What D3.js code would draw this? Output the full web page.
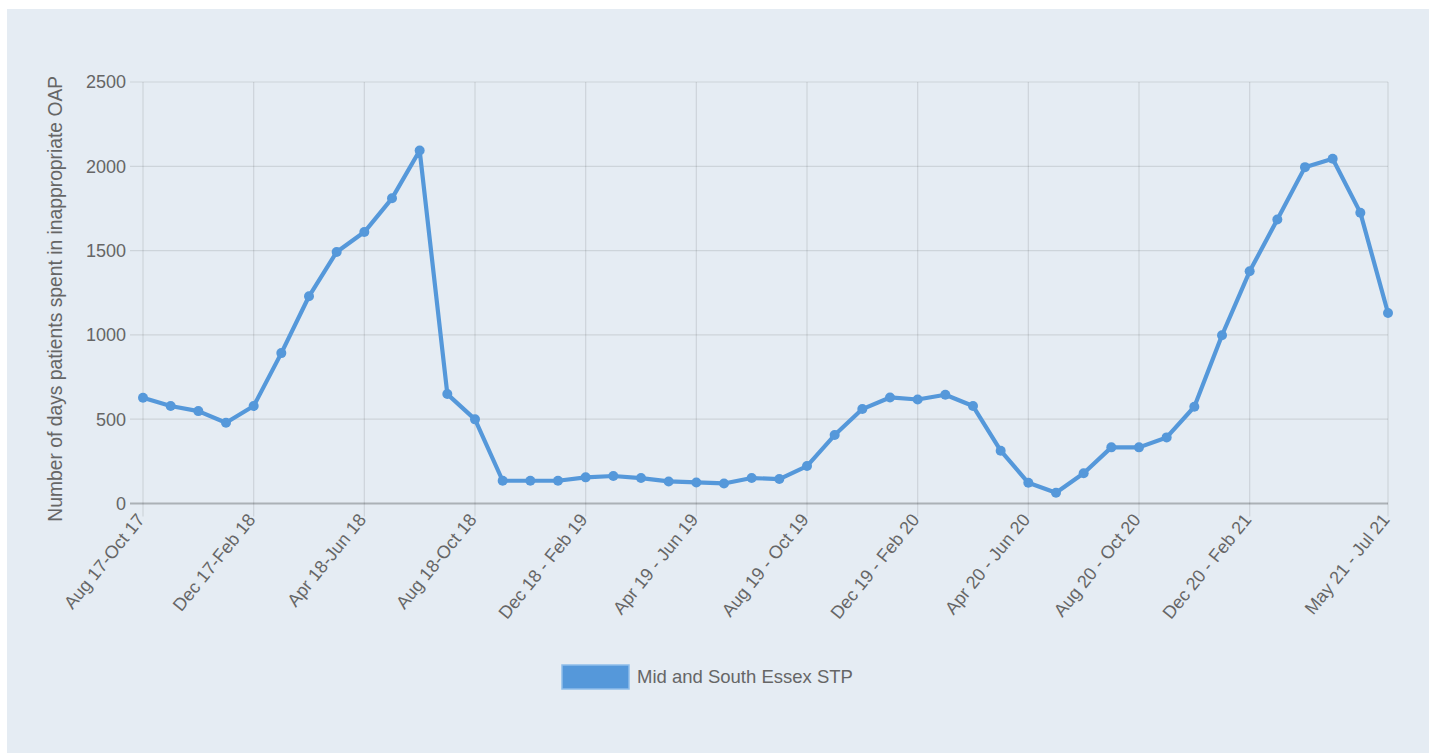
<!DOCTYPE html>
<html lang="en">
<head>
	<meta charset="utf-8">
	<title>Out of area placements</title>
	<script src="https://d3js.org/d3.v7.min.js" charset="utf-8"></script>
	<style>
	body { margin: 0; background: #fff; }
	#chart { position: absolute; left: 7px; top: 9px; width: 1422px; height: 744px; background: #e5ecf3; }
	svg { position: absolute; left: 0; top: 0; }
	text { font-family: "Liberation Sans", Arial, Helvetica, sans-serif; fill: #666; }
	</style>
</head>
<body>
<div id="chart"></div>
<script>
var periods = [
	"Aug 17-Oct 17", "Sep 17-Nov 17", "Oct 17-Dec 17", "Nov 17-Jan 18",
	"Dec 17-Feb 18", "Jan 18-Mar 18", "Feb 18-Apr 18", "Mar 18-May 18",
	"Apr 18-Jun 18", "May 18-Jul 18", "Jun 18-Aug 18", "Jul 18-Sep 18",
	"Aug 18-Oct 18", "Sep 18 - Nov 18", "Oct 18 - Dec 18", "Nov 18 - Jan 19",
	"Dec 18 - Feb 19", "Jan 19 - Mar 19", "Feb 19 - Apr 19", "Mar 19 - May 19",
	"Apr 19 - Jun 19", "May 19 - Jul 19", "Jun 19 - Aug 19", "Jul 19 - Sep 19",
	"Aug 19 - Oct 19", "Sep 19 - Nov 19", "Oct 19 - Dec 19", "Nov 19 - Jan 20",
	"Dec 19 - Feb 20", "Jan 20 - Mar 20", "Feb 20 - Apr 20", "Mar 20 - May 20",
	"Apr 20 - Jun 20", "May 20 - Jul 20", "Jun 20 - Aug 20", "Jul 20 - Sep 20",
	"Aug 20 - Oct 20", "Sep 20 - Nov 20", "Oct 20 - Dec 20", "Nov 20 - Jan 21",
	"Dec 20 - Feb 21", "Jan 21 - Mar 21", "Feb 21 - Apr 21", "Mar 21 - May 21",
	"Apr 21 - Jun 21", "May 21 - Jul 21"
];
var oapDays = [
	627, 578, 548, 479, 578, 892, 1229, 1492, 1610, 1810, 2094, 649,
	499, 135, 135, 135, 155, 163, 151, 131, 125, 119, 151, 145,
	222, 406, 560, 629, 617, 645, 578, 313, 123, 64, 179, 333,
	333, 392, 574, 998, 1377, 1684, 1995, 2045, 1725, 1130
];
var shownLabels = [
	"Aug 17-Oct 17", "Dec 17-Feb 18", "Apr 18-Jun 18", "Aug 18-Oct 18",
	"Dec 18 - Feb 19", "Apr 19 - Jun 19", "Aug 19 - Oct 19", "Dec 19 - Feb 20",
	"Apr 20 - Jun 20", "Aug 20 - Oct 20", "Dec 20 - Feb 21", "May 21 - Jul 21"
];
var yTicks = [0, 500, 1000, 1500, 2000, 2500];
var seriesName = "Mid and South Essex STP";
var yTitle = "Number of days patients spent in inappropriate OAP";

var width = 1422;
var height = 744;
// chart div sits at (7,9), so plot coordinates are shifted by that
var plotLeft = 136, plotRight = 1381, plotTop = 73, plotBottom = 494.5;
var blue = "#5598da";

var svg = d3.select("#chart")
	.append("svg")
	.attr("width", width)
	.attr("height", height);

var x = d3.scalePoint()
	.domain(periods)
	.range([plotLeft, plotRight]);

var y = d3.scaleLinear()
	.domain([0, 2500])
	.range([plotBottom, plotTop]);

var grid = svg.append("g");

// horizontal grid
grid.selectAll("line.h")
	.data(yTicks)
	.enter()
	.append("line")
	.attr("x1", plotLeft - 13)
	.attr("x2", plotRight)
	.attr("y1", d => y(d))
	.attr("y2", d => y(d))
	.attr("stroke", d => d === 0 ? "rgba(0,0,0,0.25)" : "rgba(0,0,0,0.1)")
	.attr("stroke-width", d => d === 0 ? 2 : 1.2);

// vertical grid
grid.selectAll("line.v")
	.data(shownLabels)
	.enter()
	.append("line")
	.attr("x1", d => x(d))
	.attr("x2", d => x(d))
	.attr("y1", plotTop)
	.attr("y2", plotBottom + 13)
	.attr("stroke", "rgba(0,0,0,0.1)")
	.attr("stroke-width", 1.2);

svg.append("g")
	.selectAll("text")
	.data(yTicks)
	.enter()
	.append("text")
	.attr("x", plotLeft - 17)
	.attr("y", d => y(d))
	.attr("dy", "0.35em")
	.attr("text-anchor", "end")
	.style("font-size", "18px")
	.text(d => d);

svg.append("g")
	.selectAll("text")
	.data(shownLabels)
	.enter()
	.append("text")
	.attr("transform", d => "translate(" + (x(d) - 3) + "," + (plotBottom + 12) + ") rotate(-51)")
	.attr("dy", "0.4em")
	.attr("text-anchor", "end")
	.style("font-size", "18px")
	.text(d => d);

svg.append("text")
	.attr("transform", "translate(55," + ((plotTop + plotBottom) / 2 + 6) + ") rotate(-90)")
	.attr("text-anchor", "middle")
	.style("font-size", "19.3px")
	.text(yTitle);

var line = d3.line()
	.x((d, i) => x(periods[i]))
	.y(d => y(d));

svg.append("path")
	.datum(oapDays)
	.attr("fill", "none")
	.attr("stroke", blue)
	.attr("stroke-width", 4.2)
	.attr("stroke-linejoin", "round")
	.attr("d", line);

svg.append("g")
	.selectAll("circle")
	.data(oapDays)
	.enter()
	.append("circle")
	.attr("cx", (d, i) => x(periods[i]))
	.attr("cy", d => y(d))
	.attr("r", 5)
	.attr("fill", blue);

// legend
var legend = svg.append("g");
legend.append("rect")
	.attr("x", 555)
	.attr("y", 656)
	.attr("width", 67)
	.attr("height", 24)
	.attr("fill", blue)
	.attr("stroke", "#8fbdea")
	.attr("stroke-width", 1.5);
legend.append("text")
	.attr("x", 630)
	.attr("y", 668)
	.attr("dy", "0.35em")
	.style("font-size", "18.5px")
	.text(seriesName);
</script>
</body>
</html>
